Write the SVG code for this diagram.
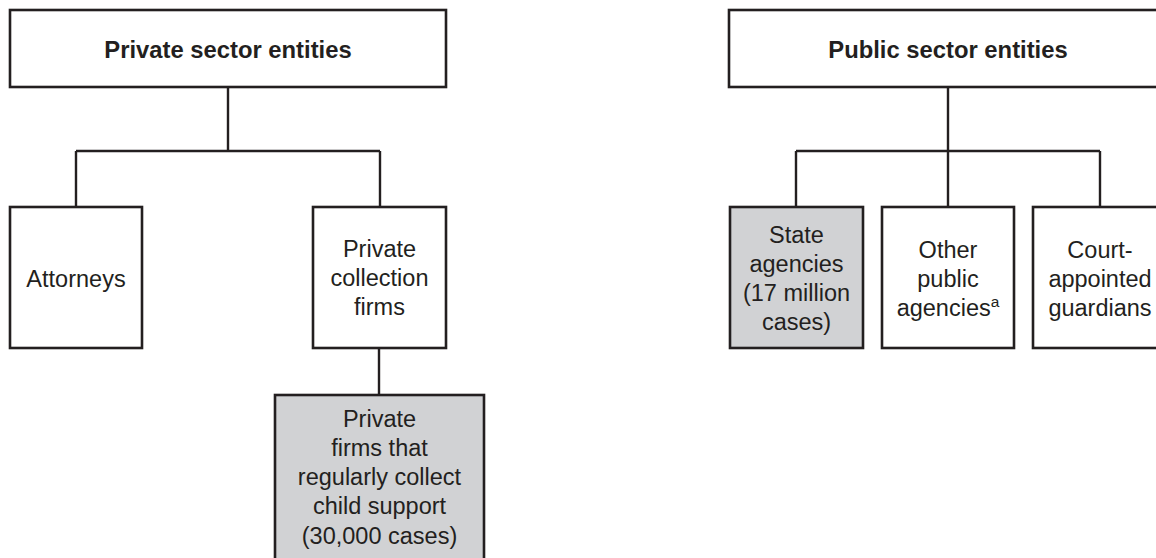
<svg xmlns="http://www.w3.org/2000/svg" width="1156" height="558" viewBox="0 0 1156 558">
<style>
.box{fill:#fff;stroke:#231f20;stroke-width:2.6}
.gray{fill:#d1d2d4;stroke:#231f20;stroke-width:2.6}
.ln{fill:none;stroke:#231f20;stroke-width:2.4}
text{font-family:"Liberation Sans",Arial,sans-serif;font-size:23.5px;fill:#231f20;text-anchor:middle}
.b{font-weight:bold;font-size:23.8px}
.sup{font-size:15.5px}
</style>
<rect width="1156" height="558" fill="#fff"/>
<g id="connectors">
<path class="ln" d="M228 87V151M76 151H380M76 151V207M380 151V207M379 348V395"/>
<path class="ln" d="M948 87V207M796 151H1100M796 151V207M1100 151V207"/>
</g>
<g id="private-sector">
<rect class="box" x="10" y="10" width="436" height="77"/>
<text class="b" x="228" y="58">Private sector entities</text>
</g>
<g id="attorneys">
<rect class="box" x="10" y="207" width="132" height="141"/>
<text x="76" y="287">Attorneys</text>
</g>
<g id="private-collection">
<rect class="box" x="313" y="207" width="133" height="141"/>
<text x="379.5" y="257">Private</text>
<text x="379.5" y="286">collection</text>
<text x="379.5" y="315">firms</text>
</g>
<g id="private-firms-child-support">
<rect class="gray" x="275" y="395" width="209" height="175"/>
<text x="379.5" y="427">Private</text>
<text x="379.5" y="456">firms that</text>
<text x="379.5" y="485">regularly collect</text>
<text x="379.5" y="514">child support</text>
<text x="379.5" y="544">(30,000 cases)</text>
</g>
<g id="public-sector">
<rect class="box" x="729" y="10" width="440" height="77"/>
<text class="b" x="948" y="58">Public sector entities</text>
</g>
<g id="state-agencies">
<rect class="gray" x="730" y="207" width="133" height="141"/>
<text x="796.5" y="243">State</text>
<text x="796.5" y="272">agencies</text>
<text x="796.5" y="301">(17 million</text>
<text x="796.5" y="330">cases)</text>
</g>
<g id="other-public">
<rect class="box" x="882" y="207" width="132" height="141"/>
<text x="948" y="258">Other</text>
<text x="948" y="287">public</text>
<text x="948" y="316">agencies<tspan class="sup" dy="-9">a</tspan></text>
</g>
<g id="court-appointed">
<rect class="box" x="1033" y="207" width="133" height="141"/>
<text x="1100" y="258">Court-</text>
<text x="1100" y="287">appointed</text>
<text x="1100" y="316">guardians</text>
</g>
</svg>
